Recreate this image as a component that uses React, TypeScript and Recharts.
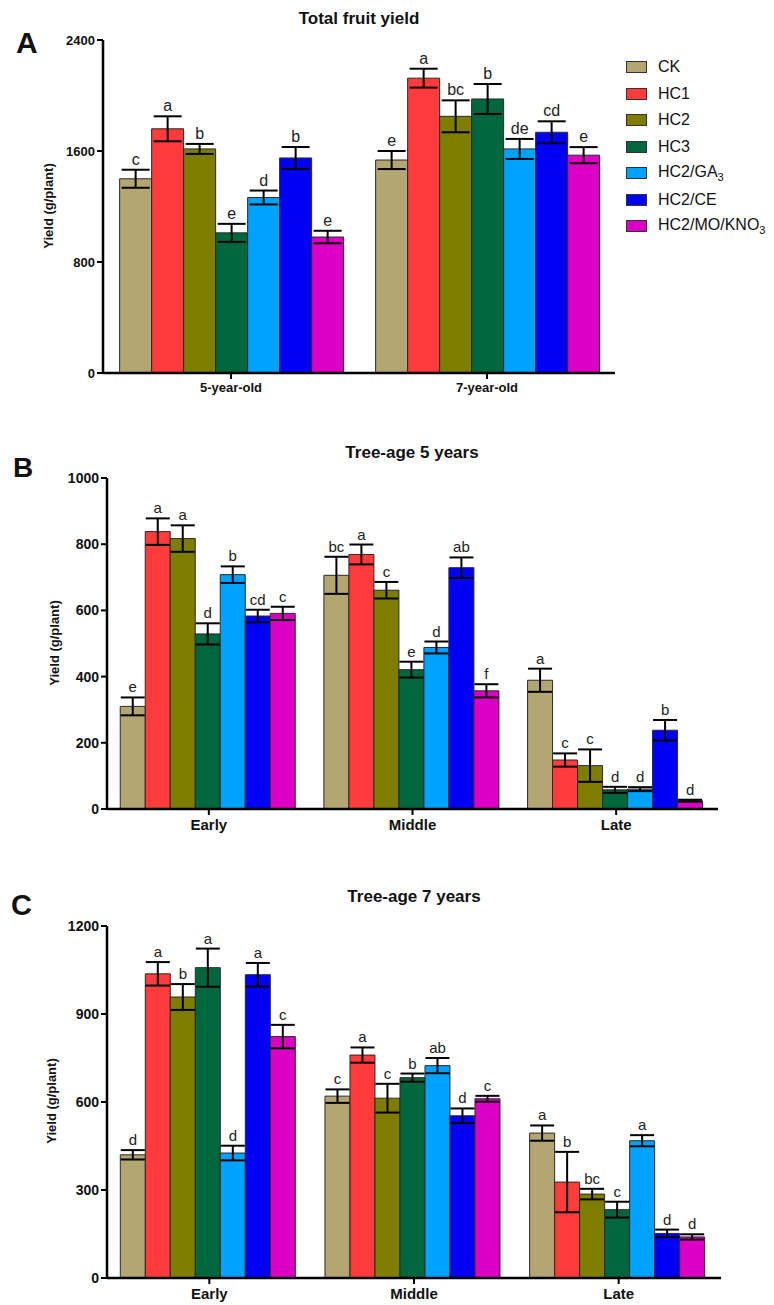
import React from 'react';
import { BarChart, Bar, XAxis, YAxis, ErrorBar, LabelList } from 'recharts';

const seriesKeys = ['CK', 'HC1', 'HC2', 'HC3', 'GA3', 'CE', 'MO'];
const seriesColors = ['#b4a672', '#ff3b3b', '#7f7d00', '#00663d', '#00a2ff', '#0000f5', '#dc00c4'];

// Panel A: Total fruit yield
const catsA = ['5-year-old', '7-year-old'];
const valsA: Record<string, number[]> = {
  CK: [1400, 1535], HC1: [1760, 2125], HC2: [1615, 1850], HC3: [1010, 1975],
  GA3: [1265, 1615], CE: [1550, 1735], MO: [980, 1570],
};
const errsA: Record<string, number[]> = {
  CK: [65, 65], HC1: [90, 68], HC2: [36, 115], HC3: [65, 108],
  GA3: [50, 72], CE: [79, 79], MO: [45, 58],
};
const sigA: Record<string, string[]> = {
  CK: ['c', 'e'], HC1: ['a', 'a'], HC2: ['b', 'bc'], HC3: ['e', 'b'],
  GA3: ['d', 'de'], CE: ['b', 'cd'], MO: ['e', 'e'],
};
const ticksA = [0, 800, 1600, 2400];

// Panel B: Tree-age 5 years
const catsB = ['Early', 'Middle', 'Late'];
const valsB: Record<string, number[]> = {
  CK: [310, 706, 389], HC1: [838, 769, 148], HC2: [817, 661, 131], HC3: [529, 421, 58],
  GA3: [708, 488, 60], CE: [583, 729, 238], MO: [591, 357, 25],
};
const errsB: Record<string, number[]> = {
  CK: [27, 56, 35], HC1: [40, 30, 20], HC2: [40, 25, 49], HC3: [32, 24, 9],
  GA3: [25, 18, 6], CE: [19, 31, 31], MO: [20, 20, 3],
};
const sigB: Record<string, string[]> = {
  CK: ['e', 'bc', 'a'], HC1: ['a', 'a', 'c'], HC2: ['a', 'c', 'c'], HC3: ['d', 'e', 'd'],
  GA3: ['b', 'd', 'd'], CE: ['cd', 'ab', 'b'], MO: ['c', 'f', 'd'],
};
const ticksB = [0, 200, 400, 600, 800, 1000];

// Panel C: Tree-age 7 years
const catsC = ['Early', 'Middle', 'Late'];
const valsC: Record<string, number[]> = {
  CK: [420, 620, 494], HC1: [1037, 760, 327], HC2: [958, 613, 286], HC3: [1058, 683, 233],
  GA3: [426, 724, 468], CE: [1034, 553, 152], MO: [823, 611, 140],
};
const errsC: Record<string, number[]> = {
  CK: [16, 23, 26], HC1: [40, 26, 103], HC2: [44, 49, 18], HC3: [65, 14, 27],
  GA3: [25, 26, 19], CE: [40, 25, 13], MO: [40, 10, 9],
};
const sigC: Record<string, string[]> = {
  CK: ['d', 'c', 'a'], HC1: ['a', 'a', 'b'], HC2: ['b', 'c', 'bc'], HC3: ['a', 'b', 'c'],
  GA3: ['d', 'ab', 'a'], CE: ['a', 'd', 'd'], MO: ['c', 'c', 'd'],
};
const ticksC = [0, 300, 600, 900, 1200];

const FONT = '"Liberation Sans", Arial, sans-serif';

function buildRows(cats: string[], vals: Record<string, number[]>, errs: Record<string, number[]>, sigs: Record<string, string[]>) {
  return cats.map((c, i) => {
    const row: any = { cat: c };
    seriesKeys.forEach((k) => {
      row[k] = vals[k][i];
      row[k + '_err'] = errs[k][i];
      row[k + '_lab'] = `${sigs[k][i]}|${errs[k][i]}|${vals[k][i]}`;
    });
    return row;
  });
}

const SigLabel = (fontSize: number) => (p: any) => {
  const vb = p.viewBox && p.viewBox.x !== undefined ? p.viewBox : p;
  const x = Number(vb.x), y = Number(vb.y), w = Number(vb.width), h = Number(vb.height);
  const parts = String(p.value).split('|');
  const sig = parts[0];
  const err = Number(parts[1]);
  const val = Number(parts[2]);
  const top = Math.min(y, y + h);
  const pxPer = val ? Math.abs(h) / val : 0;
  const ty = top - err * pxPer - 5;
  return (
    <text x={x + w / 2} y={ty} textAnchor="middle" fontSize={fontSize} fontFamily={FONT} fill="#222">
      {sig}
    </text>
  );
};

type PanelProps = {
  rows: any[];
  ticks: number[];
  top: number;
  height: number;
  margin: any;
  xFont: number;
  yFont: number;
  capW: number;
  sigFont: number;
  xAxisH: number;
};

function Panel({ rows, ticks, top, height, margin, xFont, yFont, capW, sigFont, xAxisH }: PanelProps) {
  return (
    <div style={{ position: 'absolute', left: 0, top }}>
      <BarChart width={774} height={height} data={rows} margin={margin} barCategoryGap="6.5%" barGap={0}>
        <XAxis
          dataKey="cat"
          height={xAxisH}
          axisLine={{ stroke: '#000', strokeWidth: 2.5 }}
          tickLine={{ stroke: '#000', strokeWidth: 2 }}
          tickSize={6}
          tickMargin={4}
          tick={{ fontSize: xFont, fontWeight: 'bold', fill: '#111', fontFamily: FONT }}
        />
        <YAxis
          width={50}
          domain={[ticks[0], ticks[ticks.length - 1]]}
          ticks={ticks}
          interval={0}
          axisLine={{ stroke: '#000', strokeWidth: 2.5 }}
          tickLine={{ stroke: '#000', strokeWidth: 2 }}
          tickSize={6}
          tickMargin={2}
          tick={{ fontSize: yFont, fontWeight: 'bold', fill: '#111', fontFamily: FONT }}
        />
        {seriesKeys.map((k, i) => (
          <Bar key={k} dataKey={k} fill={seriesColors[i]} stroke="#2a2a2a" strokeWidth={1} isAnimationActive={false}>
            <ErrorBar dataKey={k + '_err'} width={capW} stroke="#000" strokeWidth={2} direction="y" />
            <LabelList dataKey={k + '_lab'} content={SigLabel(sigFont)} />
          </Bar>
        ))}
      </BarChart>
    </div>
  );
}

const legendNames = ['CK', 'HC1', 'HC2', 'HC3', 'HC2/GA', 'HC2/CE', 'HC2/MO/KNO'];
const legendSubs = ['', '', '', '', '3', '', '3'];

export default function App() {
  const rowsA = buildRows(catsA, valsA, errsA, sigA);
  const rowsB = buildRows(catsB, valsB, errsB, sigB);
  const rowsC = buildRows(catsC, valsC, errsC, sigC);
  return (
    <div style={{ position: 'absolute', left: 0, top: 0, width: 774, height: 1305, background: '#fff', overflow: 'hidden' }}>
      <Panel rows={rowsA} ticks={ticksA} top={0} height={410} margin={{ top: 40, right: 159, left: 53, bottom: 7 }}
        xFont={13} yFont={13} capW={14} sigFont={16} xAxisH={30} />
      <Panel rows={rowsB} ticks={ticksB} top={430} height={420} margin={{ top: 48, right: 56, left: 57, bottom: 11 }}
        xFont={15} yFont={14} capW={12} sigFont={15} xAxisH={30} />
      <Panel rows={rowsC} ticks={ticksC} top={880} height={425} margin={{ top: 46, right: 53, left: 57, bottom: 2 }}
        xFont={15} yFont={14} capW={12} sigFont={15} xAxisH={25} />

      <svg width={774} height={1305} style={{ position: 'absolute', left: 0, top: 0, pointerEvents: 'none' }}>
        <g fontFamily={FONT} fontWeight="bold" fill="#111">
          <text x={359} y={24} fontSize={17} textAnchor="middle">Total fruit yield</text>
          <text x={412} y={458} fontSize={17} textAnchor="middle">Tree-age 5 years</text>
          <text x={414} y={902} fontSize={17} textAnchor="middle">Tree-age 7 years</text>
          <text x={16} y={53} fontSize={30}>A</text>
          <text x={13} y={477} fontSize={28}>B</text>
          <text x={11} y={915} fontSize={29}>C</text>
          <text transform="translate(48,206) rotate(-90)" fontSize={13} textAnchor="middle" dominantBaseline="central">Yield (g/plant)</text>
          <text transform="translate(54,643) rotate(-90)" fontSize={13} textAnchor="middle" dominantBaseline="central">Yield (g/plant)</text>
          <text transform="translate(51,1101) rotate(-90)" fontSize={13} textAnchor="middle" dominantBaseline="central">Yield (g/plant)</text>
        </g>
      </svg>

      {legendNames.map((n, i) => (
        <div key={n} style={{ position: 'absolute', left: 626, top: 67 + i * 26.5 - 10, height: 20, display: 'flex', alignItems: 'center', fontFamily: FONT, fontSize: 16, color: '#111' }}>
          <div style={{ width: 19, height: 10, background: seriesColors[i], border: '1px solid #333', marginRight: 11 }} />
          <span>
            {n}
            {legendSubs[i] ? <sub style={{ fontSize: 11 }}>{legendSubs[i]}</sub> : null}
          </span>
        </div>
      ))}
    </div>
  );
}
